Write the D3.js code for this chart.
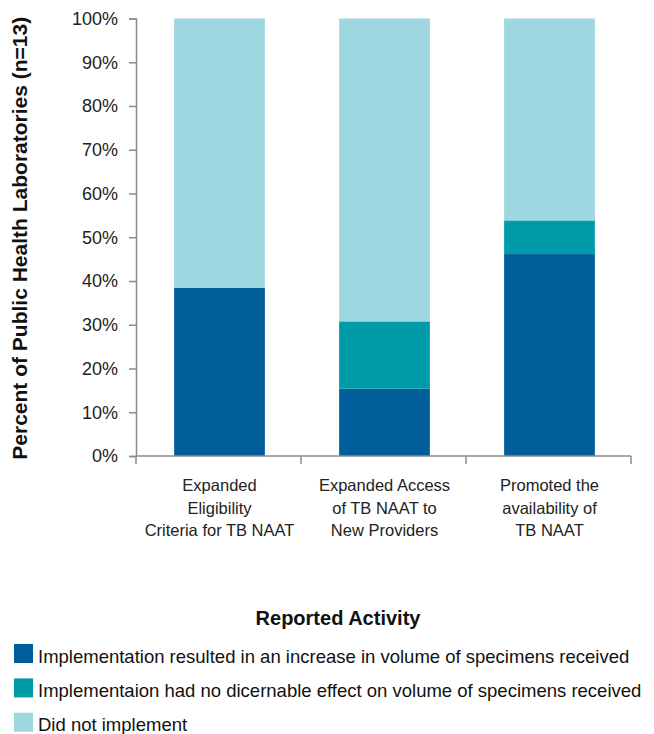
<!DOCTYPE html>
<html>
<head>
<meta charset="utf-8">
<script src="https://cdn.jsdelivr.net/npm/d3@7/dist/d3.min.js"></script>
<style>
  html, body { margin: 0; padding: 0; background: #fff; }
  svg { display: block; font-family: "Liberation Sans", Arial, sans-serif; }
</style>
</head>
<body>
<svg id="chart" width="654" height="734"></svg>
<script>
// Activities reported by public health laboratories (n = 13)
const categories = [
  ["Expanded", "Eligibility", "Criteria for TB NAAT"],
  ["Expanded Access", "of TB NAAT to", "New Providers"],
  ["Promoted the", "availability of", "TB NAAT"]
];
const seriesNames = [
  "Implementation resulted in an increase in volume of specimens received",
  "Implementaion had no dicernable effect on volume of specimens received",
  "Did not implement"
];
// Share of laboratories per category (fractions of 13)
const increased      = [5 / 13, 2 / 13, 6 / 13];
const noEffect       = [0 / 13, 2 / 13, 1 / 13];
const notImplemented = [8 / 13, 9 / 13, 6 / 13];
const yTicks = [0, 0.1, 0.2, 0.3, 0.4, 0.5, 0.6, 0.7, 0.8, 0.9, 1.0];
const colors = ["#005f9a", "#009ba8", "#9ed7df"];

const svg = d3.select("#chart");
const margin = { left: 136, right: 23, top: 18.5, bottom: 278 };
const W = 654, H = 734;
const innerW = W - margin.left - margin.right;
const innerH = H - margin.top - margin.bottom;

const rows = categories.map((c, i) => ({
  idx: i,
  s0: increased[i], s1: noEffect[i], s2: notImplemented[i]
}));
const stack = d3.stack().keys(["s0", "s1", "s2"])(rows);

const x = d3.scaleBand().domain(d3.range(categories.length))
  .range([0, innerW]).paddingInner(0.45).paddingOuter(0.225);
const y = d3.scaleLinear().domain([0, 1]).range([innerH, 0]);

const g = svg.append("g").attr("transform", `translate(${margin.left},${margin.top})`);

// stacked bars
g.selectAll("g.layer").data(stack).join("g")
  .attr("class", "layer")
  .attr("fill", (d, i) => colors[i])
  .selectAll("rect").data(d => d).join("rect")
  .attr("x", d => x(d.data.idx) + 1)
  .attr("width", x.bandwidth())
  .attr("y", d => y(d[1]))
  .attr("height", d => y(d[0]) - y(d[1]));

// y axis
const yAxis = g.append("g")
  .call(d3.axisLeft(y).tickValues(yTicks).tickFormat(d3.format(".0%")).tickSize(7).tickPadding(11));
yAxis.select(".domain").attr("stroke", "#8c8c8c").attr("stroke-width", 1.5);
yAxis.selectAll(".tick line").attr("stroke", "#8c8c8c").attr("stroke-width", 1.5);
yAxis.selectAll(".tick text").attr("font-size", 18).attr("fill", "#222")
  .attr("font-family", "'Liberation Sans', Arial, sans-serif");

// x axis: boundary ticks between categories
const xAxisG = g.append("g").attr("transform", `translate(0,${innerH})`);
xAxisG.append("line").attr("x1", 0).attr("x2", innerW)
  .attr("stroke", "#8c8c8c").attr("stroke-width", 1.5);
const bounds = d3.range(categories.length + 1).map(i => i * innerW / categories.length);
xAxisG.selectAll("line.b").data(bounds).join("line").attr("class", "b")
  .attr("x1", d => d).attr("x2", d => d).attr("y1", 0).attr("y2", 8)
  .attr("stroke", "#8c8c8c").attr("stroke-width", 1.5);

// category labels
xAxisG.selectAll("text.cat").data(categories).join("text").attr("class", "cat")
  .attr("text-anchor", "middle")
  .attr("font-size", 16.5).attr("fill", "#222")
  .attr("transform", (d, i) => `translate(${x(i) + x.bandwidth() / 2 + 1},35)`)
  .selectAll("tspan").data(d => d).join("tspan")
  .attr("x", 0).attr("dy", (d, i) => i === 0 ? 0 : 22.5)
  .text(d => d);

// y axis title
svg.append("text")
  .attr("transform", `translate(26.5,${margin.top + innerH / 2 + 1}) rotate(-90)`)
  .attr("text-anchor", "middle")
  .attr("font-size", 21).attr("font-weight", "bold").attr("fill", "#111")
  .text("Percent of Public Health Laboratories (n=13)");

// legend
svg.append("text").attr("x", 338).attr("y", 625)
  .attr("text-anchor", "middle").attr("font-size", 20).attr("font-weight", "bold").attr("fill", "#111")
  .text("Reported Activity");

const legend = svg.append("g").selectAll("g").data(seriesNames).join("g")
  .attr("transform", (d, i) => `translate(14,${644 + i * 34.4})`);
legend.append("rect").attr("width", 19).attr("height", 19).attr("fill", (d, i) => colors[i]);
legend.append("text").attr("x", 24).attr("y", 18.5)
  .attr("font-size", 18.5).attr("fill", "#111")
  .text(d => d);
</script>
</body>
</html>
